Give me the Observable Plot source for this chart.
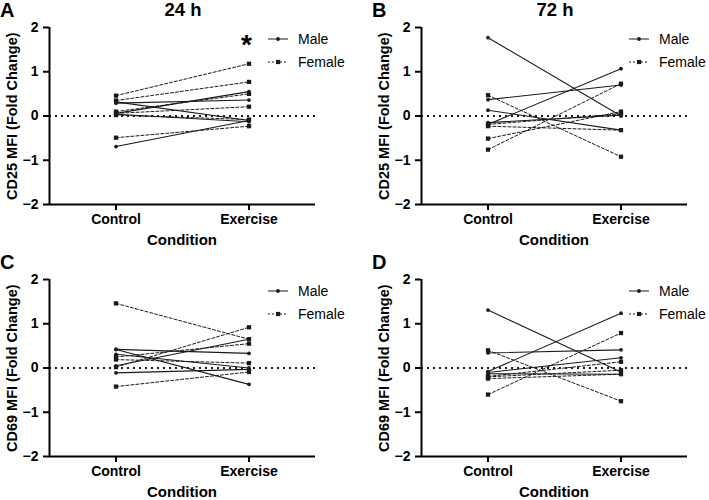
<!DOCTYPE html>
<html>
<head>
<meta charset="utf-8">
<script src="https://cdn.jsdelivr.net/npm/d3@7"></script>
<script src="https://cdn.jsdelivr.net/npm/@observablehq/plot@0.6"></script>
<style>
  body { margin: 0; background: #fff; font-family: "Liberation Sans", Arial, sans-serif; }
  #wrap { position: relative; width: 709px; height: 500px; overflow: hidden; }
  .panel { position: absolute; }
  .lbl { position: absolute; font-weight: bold; color: #000; line-height: 1; white-space: nowrap; }
  .leg { position: absolute; overflow: visible; }
</style>
</head>
<body>
<div id="wrap"></div>
<script>
// ---- data: [control, exercise] pairs per subject ----
const conditions = ["Control", "Exercise"];
const yTicks = [-2, -1, 0, 1, 2];

const cd25_24h_male   = [[0.29, 0.36], [0.32, -0.10], [0.06, 0.55], [0.04, -0.13], [-0.69, -0.10]];
const cd25_24h_female = [[0.46, 1.18], [0.35, 0.77], [0.10, 0.50], [0.06, 0.21], [0.02, -0.08], [-0.49, -0.23]];

const cd25_72h_male   = [[1.77, 0.00], [0.37, 0.70], [-0.19, 1.07], [0.13, -0.32], [-0.15, 0.02]];
const cd25_72h_female = [[0.47, -0.92], [-0.76, 0.73], [-0.51, 0.10], [-0.23, -0.32], [-0.19, 0.05]];

const cd69_24h_male   = [[0.42, 0.33], [0.42, -0.37], [0.05, 0.65], [-0.11, -0.03], [0.31, 0.00]];
const cd69_24h_female = [[1.46, 0.65], [0.02, 0.92], [0.25, 0.55], [0.19, 0.11], [-0.42, -0.09]];

const cd69_72h_male   = [[1.31, -0.09], [-0.08, 1.24], [0.34, 0.41], [-0.10, 0.23], [-0.13, -0.14]];
const cd69_72h_female = [[0.40, -0.75], [-0.60, 0.79], [-0.19, 0.14], [-0.24, -0.14], [-0.20, -0.05]];

const panelLetters = ["A", "B", "C", "D"];
const panelTitles = ["24 h", "72 h"];
const yLabels = ["CD25 MFI (Fold Change)", "CD69 MFI (Fold Change)"];
const xLabel = "Condition";
const legendLabels = ["Male", "Female"];

function toRows(pairs, sex) {
  const rows = [];
  pairs.forEach((p, i) => {
    p.forEach((v, j) => rows.push({id: sex + i, sex, cond: j, value: v}));
  });
  return rows;
}

const fmtY = d => d < 0 ? "\u2212" + Math.abs(d) : String(d);

function makePanel(male, female, width, marginRight) {
  const m = toRows(male, "M");
  const f = toRows(female, "F");
  const ink = "#1a1a1a";
  return Plot.plot({
    width, height: 250,
    marginLeft: 49, marginRight, marginTop: 27, marginBottom: 46,
    style: {fontFamily: '"Liberation Sans", Arial, sans-serif', fontWeight: "bold", color: "#000", background: "#fff"},
    x: {domain: [-0.5, 1.5]},
    y: {domain: [-2, 2]},
    marks: [
      Plot.ruleY([0], {stroke: ink, strokeWidth: 2, strokeDasharray: "2,4"}),
      Plot.line(f, {x: "cond", y: "value", z: "id", stroke: ink, strokeWidth: 1, strokeDasharray: "3,2"}),
      Plot.line(m, {x: "cond", y: "value", z: "id", stroke: ink, strokeWidth: 1.1}),
      Plot.dot(f, {x: "cond", y: "value", symbol: "square", r: 2.4, fill: ink, stroke: "none"}),
      Plot.dot(m, {x: "cond", y: "value", r: 1.9, fill: ink, stroke: "none"}),
      Plot.ruleX([-0.5], {stroke: "#000", strokeWidth: 2}),
      Plot.ruleY([-2], {stroke: "#000", strokeWidth: 2}),
      Plot.axisY({ticks: yTicks, tickFormat: fmtY, tickSize: 6, tickPadding: 5, strokeWidth: 2, fontSize: 14, label: null}),
      Plot.axisX({ticks: [0, 1], tickFormat: i => conditions[i], tickSize: 6, tickPadding: 4, strokeWidth: 2, fontSize: 14, label: null})
    ]
  });
}

const wrap = document.getElementById("wrap");
const specs = [
  {male: cd25_24h_male, female: cd25_24h_female, yl: yLabels[0], left: 0, top: 0, w: 354, mr: 39},
  {male: cd25_72h_male, female: cd25_72h_female, yl: yLabels[0], left: 372, top: 0, w: 337, mr: 22},
  {male: cd69_24h_male, female: cd69_24h_female, yl: yLabels[1], left: 0, top: 252, w: 354, mr: 39},
  {male: cd69_72h_male, female: cd69_72h_female, yl: yLabels[1], left: 372, top: 252, w: 337, mr: 22}
];

specs.forEach((s, k) => {
  const svg = makePanel(s.male, s.female, s.w, s.mr);
  const d = document.createElement("div");
  d.className = "panel";
  d.style.left = s.left + "px";
  d.style.top = s.top + "px";
  d.appendChild(svg);
  wrap.appendChild(d);

  // panel letter
  const L = document.createElement("div");
  L.className = "lbl";
  L.style.left = (s.left + 0) + "px";
  L.style.top = (s.top + 0) + "px";
  L.style.fontSize = "20px";
  L.textContent = panelLetters[k];
  wrap.appendChild(L);

  // y label (rotated)
  const Y = document.createElement("div");
  Y.className = "lbl";
  Y.style.fontSize = "14.5px";
  Y.style.width = "220px";
  Y.style.textAlign = "center";
  Y.style.left = (s.left + 12 - 110) + "px";
  Y.style.top = (s.top + 116 - 7) + "px";
  Y.style.transform = "rotate(-90deg)";
  Y.style.transformOrigin = "50% 50%";
  Y.textContent = s.yl;
  wrap.appendChild(Y);

  // x label
  const X = document.createElement("div");
  X.className = "lbl";
  X.style.fontSize = "15px";
  X.style.width = "160px";
  X.style.textAlign = "center";
  X.style.left = (s.left + 182 - 80) + "px";
  X.style.top = (s.top + 232) + "px";
  X.textContent = xLabel;
  wrap.appendChild(X);

  // legend
  const legX = s.left + (k % 2 === 0 ? 268 : 257);
  const ns = "http://www.w3.org/2000/svg";
  const lg = document.createElementNS(ns, "svg");
  lg.setAttribute("class", "leg");
  lg.setAttribute("width", 100);
  lg.setAttribute("height", 40);
  lg.style.left = legX + "px";
  lg.style.top = (s.top + 28) + "px";
  legendLabels.forEach((name, j) => {
    const y = 11 + j * 23;
    const ln = document.createElementNS(ns, "line");
    ln.setAttribute("x1", 0); ln.setAttribute("x2", 20);
    ln.setAttribute("y1", y); ln.setAttribute("y2", y);
    ln.setAttribute("stroke", "#1a1a1a");
    ln.setAttribute("stroke-width", 1);
    if (j === 1) ln.setAttribute("stroke-dasharray", "2,2");
    lg.appendChild(ln);
    let mk;
    if (j === 0) {
      mk = document.createElementNS(ns, "circle");
      mk.setAttribute("cx", 10); mk.setAttribute("cy", y); mk.setAttribute("r", 1.9);
    } else {
      mk = document.createElementNS(ns, "rect");
      mk.setAttribute("x", 8); mk.setAttribute("y", y - 2.1); mk.setAttribute("width", 4.2); mk.setAttribute("height", 4.2);
    }
    mk.setAttribute("fill", "#1a1a1a");
    lg.appendChild(mk);
    const t = document.createElementNS(ns, "text");
    t.setAttribute("x", 30); t.setAttribute("y", y + 5);
    t.setAttribute("font-family", '"Liberation Sans", Arial, sans-serif');
    t.setAttribute("font-size", 14);
    t.textContent = name;
    lg.appendChild(t);
  });
  wrap.appendChild(lg);
});

// column titles
panelTitles.forEach((t, i) => {
  const T = document.createElement("div");
  T.className = "lbl";
  T.style.fontSize = "18.5px";
  T.style.width = "120px";
  T.style.textAlign = "center";
  T.style.left = (i === 0 ? 183 - 60 : 555 - 60) + "px";
  T.style.top = "1px";
  T.textContent = t;
  wrap.appendChild(T);
});

// significance marker
const star = document.createElement("div");
star.className = "lbl";
star.style.fontSize = "28px";
star.style.left = "241px";
star.style.top = "31px";
star.textContent = "*";
wrap.appendChild(star);
</script>
</body>
</html>
